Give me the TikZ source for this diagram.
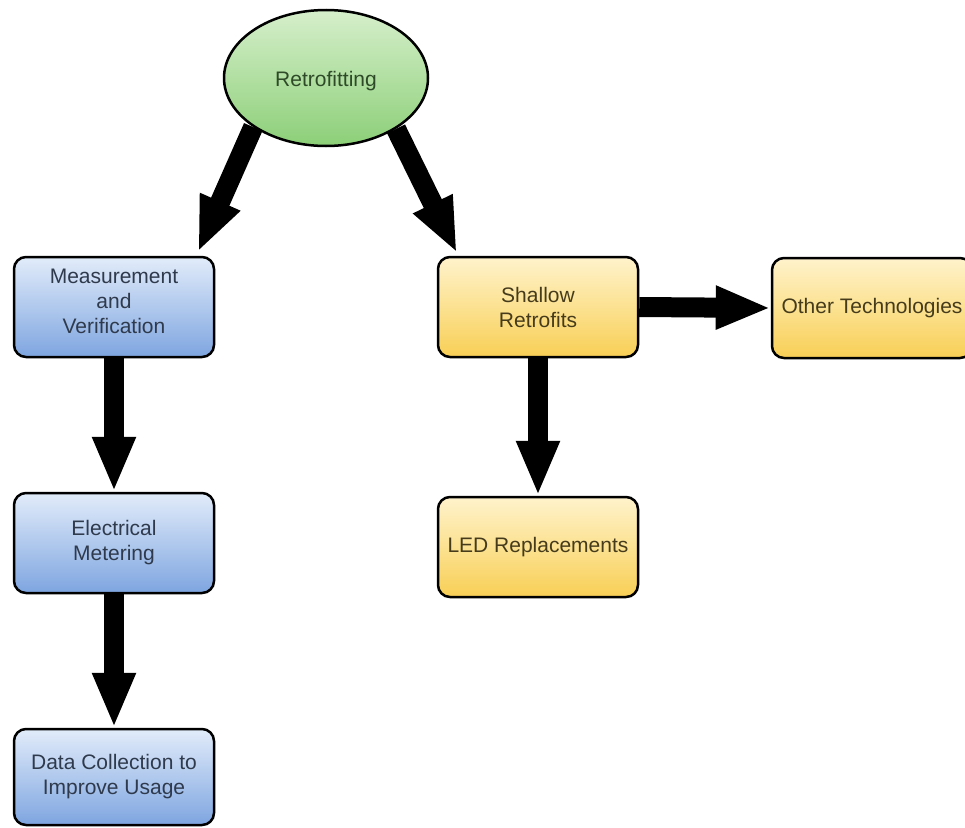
\documentclass[tikz,border=0pt]{standalone}
\usepackage{fontspec}
\setmainfont{Liberation Sans}
\usetikzlibrary{arrows.meta,shapes.geometric}
\definecolor{gtop}{HTML}{D6EFCB}
\definecolor{gbot}{HTML}{8CCF78}
\definecolor{btop}{HTML}{E2ECFA}
\definecolor{bbot}{HTML}{7EA5E0}
\definecolor{ytop}{HTML}{FFF3CC}
\definecolor{ybot}{HTML}{F8CF55}
\definecolor{gtxt}{HTML}{2E4A28}
\definecolor{btxt}{HTML}{2F3A4C}
\definecolor{ytxt}{HTML}{463C1C}
\begin{document}
\begin{tikzpicture}[x=1pt,y=-1pt,
  every node/.style={font=\fontsize{21}{25}\selectfont, align=center, inner sep=0pt},
  box/.style={draw=black, line width=2.5pt, rounded corners=12pt, minimum width=200pt, minimum height=100pt},
  bluebox/.style={box, top color=btop, bottom color=bbot, text=btxt},
  yelbox/.style={box, top color=ytop, bottom color=ybot, text=ytxt},
  bigarrow/.style={line width=20pt, -{Triangle[length=55pt,width=40pt]}}
]
\useasboundingbox (0,0) rectangle (965,827);
\clip (0,0) rectangle (965,827);
\node[ellipse, draw=black, line width=2.5pt, minimum width=204pt, minimum height=136pt,
      top color=gtop, bottom color=gbot, text=gtxt] (ret) at (326,78) {\raisebox{-3pt}[\height][\depth]{Retrofitting}};
\node[bluebox] (mv) at (114,307) {\raisebox{4pt}[\height][\depth]{\begin{tabular}{@{}c@{}}Measurement\\and\\Verification\end{tabular}}};
\node[bluebox] (em) at (114,543) {Electrical\\Metering};
\node[bluebox, minimum height=96pt] (dc) at (114,777) {Data Collection to\\Improve Usage};
\node[yelbox] (sr) at (538,307) {Shallow\\Retrofits};
\node[yelbox] (led) at (538,547) {LED Replacements};
\node[yelbox] (ot) at (872,308) {Other Technologies};
\coordinate (tl) at (198,252);
\coordinate (tr) at (457,253);
\draw[bigarrow] (ret.214) -- (tl);
\draw[bigarrow] (ret.324) -- (tr);
\draw[bigarrow] (mv.south) -- (em.north);
\draw[bigarrow] (em.south) -- (dc.north);
\draw[bigarrow] (sr.south) -- (led.north);
\draw[bigarrow] (sr.east) -- (ot.west);
\end{tikzpicture}
\end{document}
